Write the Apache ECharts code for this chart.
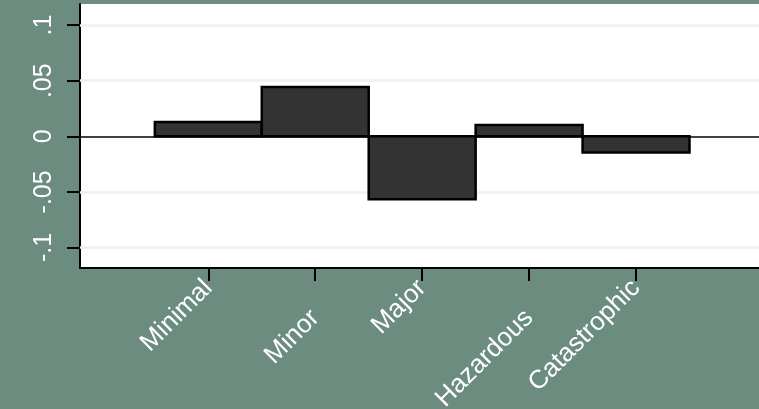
<!DOCTYPE html>
<html>
<head>
<meta charset="utf-8">
<script src="https://cdn.jsdelivr.net/npm/echarts@6/dist/echarts.min.js"></script>
<style>
  html, body { margin: 0; padding: 0; background: #6c8c80; }
  #chart { width: 759px; height: 409px; }
</style>
</head>
<body>
<div id="chart"></div>
<script>
// Severity categories and the mean difference for each
const categories = ['Minimal', 'Minor', 'Major', 'Hazardous', 'Catastrophic'];
const values = [0.0129, 0.0444, -0.0566, 0.0102, -0.0145];

// Y axis ticks and their printed labels
const yTickValues = [-0.1, -0.05, 0, 0.05, 0.1];
const yTickLabels = ['-.1', '-.05', '0', '.05', '.1'];
const gridValues = [-0.1, -0.05, 0.05, 0.1];

const positions = categories.map((c, i) => i + 1);
const barData = positions.map((p, i) => [p, values[i]]);

const FONT = '"Liberation Sans", Arial, Helvetica, sans-serif';

// Every second category label is pushed further below the axis (staggered labels).
// The labels are rotated 45°, so a straight-down shift d becomes d/√2 back along
// the text and d/√2 across it.
const STAGGER = 30;
const s = STAGGER / Math.SQRT2;

const chart = echarts.init(document.getElementById('chart'));
chart.setOption({
  backgroundColor: '#6c8c80',
  animation: false,
  grid: {
    left: 80, right: 0, top: 4, bottom: 141,
    outerBoundsMode: 'none',
    containLabel: false,
    backgroundColor: '#ffffff', show: true, borderWidth: 0
  },
  xAxis: {
    type: 'value',
    min: -0.2,
    max: 6.15,
    axisLine: { show: true, onZero: false, lineStyle: { color: '#000', width: 2 } },
    axisTick: { show: true, length: 13, customValues: positions, lineStyle: { color: '#000', width: 2 } },
    axisLabel: {
      customValues: positions,
      rotate: 45,
      margin: 16,
      color: '#ffffff',
      fontFamily: FONT,
      fontSize: 26,
      formatter: v => {
        const i = Math.round(v) - 1;
        const name = categories[i] || '';
        return i % 2 === 1 ? '{alt|' + name + '}' : '{base|' + name + '}';
      },
      rich: {
        base: { color: '#ffffff', fontFamily: FONT, fontSize: 26 },
        alt: { color: '#ffffff', fontFamily: FONT, fontSize: 26, padding: [2 * s, s, 0, 0] }
      }
    },
    splitLine: { show: false }
  },
  yAxis: {
    type: 'value',
    min: -0.1185,
    max: 0.119,
    axisLine: { show: true, onZero: false, lineStyle: { color: '#000', width: 2 } },
    axisTick: { show: true, length: 13, customValues: yTickValues, lineStyle: { color: '#000', width: 2 } },
    axisLabel: {
      customValues: yTickValues,
      rotate: 90,
      margin: 23,
      color: '#ffffff',
      fontFamily: FONT,
      fontSize: 25,
      formatter: v => {
        const k = yTickValues.findIndex(t => Math.abs(t - v) < 1e-9);
        return k >= 0 ? yTickLabels[k] : '';
      }
    },
    splitLine: { show: false }
  },
  series: [
    {
      // horizontal grid lines and the zero reference line, kept under the bars
      type: 'line',
      data: [],
      z: 1,
      markLine: {
        silent: true,
        z: 1,
        symbol: 'none',
        label: { show: false },
        data: gridValues.map(v => ({ yAxis: v, lineStyle: { color: '#eaf2f3', width: 2.5, type: 'solid' } }))
          .concat([{ yAxis: 0, lineStyle: { color: '#000', width: 1.5, type: 'solid' } }])
      }
    },
    {
      type: 'custom',
      z: 6,
      data: barData,
      renderItem: (params, api) => {
        const x = api.value(0);
        const v = api.value(1);
        const a = api.coord([x - 0.5, v]);
        const b = api.coord([x + 0.5, 0]);
        return {
          type: 'rect',
          shape: {
            x: a[0],
            y: Math.min(a[1], b[1]),
            width: b[0] - a[0],
            height: Math.abs(b[1] - a[1])
          },
          style: { fill: '#333333', stroke: '#000000', lineWidth: 2.5 }
        };
      }
    }
  ]
});
</script>
</body>
</html>
